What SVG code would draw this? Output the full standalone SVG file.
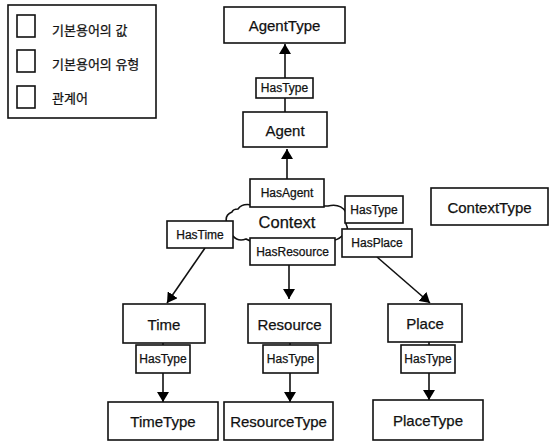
<svg xmlns="http://www.w3.org/2000/svg" width="550" height="442" viewBox="0 0 550 442">
<defs>
<marker id="ah" viewBox="0 0 10 12" refX="10" refY="6" markerWidth="10" markerHeight="12" markerUnits="userSpaceOnUse" orient="auto">
<path d="M0,0 L10,6 L0,12 Z" fill="#000"/>
</marker>
</defs>
<style>
rect{fill:#fff;stroke:#111;stroke-width:1.6}
.c{stroke:#111;stroke-width:1.6;fill:none}
text{font-family:"Liberation Sans",Arial,"Noto Sans CJK KR",sans-serif;fill:#111;text-anchor:middle;dominant-baseline:central;stroke:#111;stroke-width:0.25}
.n{font-size:15px}
.r{font-size:12px}
.lg{font-size:13px;text-anchor:start}
</style>
<rect width="550" height="442" style="fill:#fff;stroke:none"/>
<g id="legend">
<rect x="8" y="5" width="148" height="113"/>
<rect x="17" y="15" width="18" height="22"/>
<rect x="17" y="50" width="18" height="22"/>
<rect x="17" y="86" width="18" height="22"/>
<text class="lg" x="52" y="30">기본용어의 값</text>
<text class="lg" x="52" y="64">기본용어의 유형</text>
<text class="lg" x="52" y="98">관계어</text>
</g>
<g id="connectors">
<line class="c" x1="285" y1="112" x2="285" y2="44" marker-end="url(#ah)"/>
<line class="c" x1="287" y1="179" x2="287" y2="149" marker-end="url(#ah)"/>
<line class="c" x1="205" y1="248" x2="167" y2="303" marker-end="url(#ah)"/>
<line class="c" x1="289" y1="265" x2="289" y2="299" marker-end="url(#ah)"/>
<line class="c" x1="377" y1="257" x2="430" y2="303" marker-end="url(#ah)"/>
<line class="c" x1="163" y1="343" x2="163" y2="402" marker-end="url(#ah)"/>
<line class="c" x1="290" y1="343" x2="290" y2="402" marker-end="url(#ah)"/>
<line class="c" x1="429" y1="342" x2="429" y2="400" marker-end="url(#ah)"/>
</g>
<g id="AgentType"><rect x="224" y="7" width="121" height="36"/><text class="n" x="284.5" y="25">AgentType</text></g>
<g id="HasType-agent"><rect x="256" y="78" width="57" height="20"/><text class="r" x="284.5" y="88">HasType</text></g>
<g id="Agent"><rect x="243" y="112" width="84" height="35"/><text class="n" x="285" y="130">Agent</text></g>
<g id="Context"><path d="M238,209 Q242,203 252,205 Q258,203 266,206 L328,206 Q340,203 346,212 Q350,218 346,224 Q350,232 342,236 Q336,242 326,240 L264,240 Q254,244 246,239 Q238,242 233,236 Q224,233 227,224 Q224,215 232,212 Q233,209 238,209 Z" fill="#fff" stroke="#111" stroke-width="1.6"/><text x="287" y="222" style="font-size:16.5px">Context</text></g>
<g id="HasAgent"><rect x="250" y="179" width="74" height="28"/><text class="r" x="287" y="193">HasAgent</text></g>
<g id="HasTime"><rect x="167" y="221" width="66" height="27"/><text class="r" x="200" y="235">HasTime</text></g>
<g id="HasResource"><rect x="250" y="238" width="85" height="27"/><text class="r" x="292.5" y="252">HasResource</text></g>
<g id="HasType-context"><rect x="345" y="196" width="58" height="27"/><text class="r" x="374" y="210">HasType</text></g>
<g id="HasPlace"><rect x="342" y="229" width="70" height="28"/><text class="r" x="377" y="243">HasPlace</text></g>
<g id="ContextType"><rect x="431" y="188" width="117" height="37"/><text class="n" x="489.5" y="207">ContextType</text></g>
<g id="Time"><rect x="123" y="304" width="82" height="39"/><text class="n" x="164" y="324">Time</text></g>
<g id="Resource"><rect x="248" y="304" width="83" height="39"/><text class="n" x="289.5" y="324">Resource</text></g>
<g id="Place"><rect x="388" y="304" width="74" height="38"/><text class="n" x="425" y="323">Place</text></g>
<g id="HasType-time"><rect x="136" y="345" width="54" height="28"/><text class="r" x="163" y="359">HasType</text></g>
<g id="HasType-resource"><rect x="263" y="345" width="55" height="28"/><text class="r" x="290.5" y="359">HasType</text></g>
<g id="HasType-place"><rect x="401" y="345" width="54" height="28"/><text class="r" x="428" y="359">HasType</text></g>
<g id="TimeType"><rect x="108" y="402" width="110" height="38"/><text class="n" x="163" y="421">TimeType</text></g>
<g id="ResourceType"><rect x="224" y="402" width="109" height="38"/><text class="n" x="278.5" y="421">ResourceType</text></g>
<g id="PlaceType"><rect x="373" y="400" width="110" height="40"/><text class="n" x="428" y="420">PlaceType</text></g>
</svg>
